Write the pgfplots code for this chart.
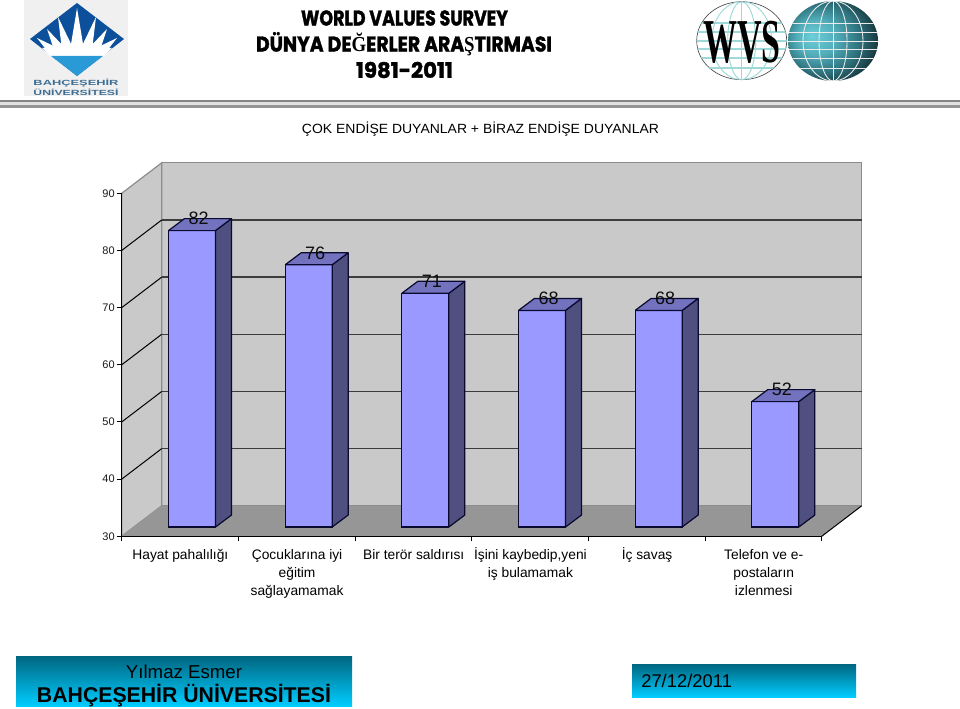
\documentclass[border=0pt]{standalone}
\usepackage{fontspec}
\setmainfont{Liberation Sans}
\newfontfamily\titlefont[BoldFeatures={FakeBold=1.6}]{Poppins}
\newfontfamily\serifpart{Liberation Serif}
\usepackage{graphicx}
\usepackage{pgfplots}
\pgfplotsset{compat=1.18}
\definecolor{barfront}{HTML}{9999FF}
\definecolor{barside}{HTML}{4F4F80}
\definecolor{bartop}{HTML}{7272BE}
\definecolor{barline}{HTML}{0A0A30}
\definecolor{wallc}{HTML}{C9C9C9}
\definecolor{floorc}{HTML}{969696}
\definecolor{edgec}{HTML}{8C8C8C}
\definecolor{gridc}{HTML}{3C3C3C}
\definecolor{logoblue}{HTML}{0C4F9A}
\definecolor{logolight}{HTML}{2A9AD6}
\definecolor{logotext}{HTML}{3F6E94}
\definecolor{bandtop}{HTML}{006680}
\definecolor{bandbot}{HTML}{00CCFF}
\definecolor{gridteal}{HTML}{9FD8D8}
\definecolor{globea}{HTML}{6BD0DA}
\definecolor{globeb}{HTML}{52AEBA}
\definecolor{globec}{HTML}{2F7580}
\definecolor{globed}{HTML}{12292E}
\pgfdeclareradialshading{globe}{\pgfpoint{-12bp}{3bp}}{%
  color(0bp)=(globea);
  color(11bp)=(globeb);
  color(21bp)=(globec);
  color(32bp)=(globed);
  color(40bp)=(black);
  color(50bp)=(black)}
% side, top and base edge of one bar: #1 position, #2 value
\newcommand\barfaces[2]{%
  \addplot[fill=barside,draw=barline,line width=.9pt,line join=round] coordinates
    {({#1+.2014},30) ({#1+.3385},32.105) ({#1+.3385},{#2+2.105}) ({#1+.2014},#2) ({#1+.2014},30)};
  \addplot[fill=bartop,draw=barline,line width=.9pt,line join=round] coordinates
    {({#1-.2014},#2) ({#1-.0643},{#2+2.105}) ({#1+.3385},{#2+2.105}) ({#1+.2014},#2) ({#1-.2014},#2)};
  \addplot[draw=barline,line width=.9pt] coordinates {({#1-.2014},30) ({#1+.2014},30)};
}
\newcommand\wallgrid[1]{%
  \addplot[draw=black,line width=.75pt] coordinates {(-.5,#1) (-.1571,{#1+5.335})};
  \addplot[draw=gridc,line width=1.1pt] coordinates {(-.1571,{#1+5.335}) (5.8429,{#1+5.335})};
}
\begin{document}
\begin{tikzpicture}
\begin{scope}[x=.75pt,y=-.75pt]
\path[use as bounding box] (0,0) rectangle (960,709);
% university logo
\fill[black!6] (24,0) rectangle (128,96);
\fill[logoblue] (30,39) -- (77,3) -- (124,39) -- (77,76) -- cycle;
\fill[white] (70,50) -- (77,8) -- (84,50) -- cycle;
\fill[white] (62,50) -- (58,17) -- (74,50) -- cycle;
\fill[white] (92,50) -- (96,17) -- (80,50) -- cycle;
\fill[white] (54,50) -- (47,29) -- (67,50) -- cycle;
\fill[white] (100,50) -- (107,29) -- (87,50) -- cycle;
\fill[white] (48,52) -- (37,38) -- (60,49) -- cycle;
\fill[white] (106,52) -- (117,38) -- (94,49) -- cycle;
\fill[white] (42,48) -- (112,48) -- (103,57) -- (51,57) -- cycle;
\fill[logolight] (51,56) -- (103,56) -- (77,76) -- cycle;
\node[text=logotext,font=\bfseries\fontsize{5.6}{6}\selectfont,inner sep=0] at (76,83.5)
  {\resizebox{63.75pt}{\height}{BAHÇEŞEHİR}};
\node[text=logotext,font=\bfseries\fontsize{5.6}{6}\selectfont,inner sep=0] at (76,92)
  {\resizebox{63.75pt}{\height}{ÜNİVERSİTESİ}};
% heading
\node[inner sep=0,font=\titlefont\bfseries\fontsize{16}{16}\selectfont] at (404.5,18)
  {\resizebox{155.25pt}{\height}{WORLD VALUES SURVEY}};
\node[inner sep=0,font=\titlefont\bfseries\fontsize{16}{16}\selectfont] at (404,44)
  {\resizebox{222pt}{\height}{DÜNYA DE{\serifpart Ğ}ERLER ARA{\serifpart Ş}TIRMASI}};
\node[inner sep=0,font=\titlefont\bfseries\fontsize{16}{16}\selectfont] at (404.5,70)
  {\resizebox{72.75pt}{\height}{1981-2011}};
% WVS logo
\draw[black!70,line width=.5pt,fill=white] (741.7,40.7) ellipse [x radius=45,y radius=39];
\begin{scope}
\clip (741.7,40.7) ellipse [x radius=45,y radius=39];
\foreach \y in {23,32,41,49,58,68}{\draw[gridteal,line width=.8pt] (695,\y) -- (788,\y);}
\foreach \r in {14,30}{\draw[gridteal,line width=.7pt] (741.7,40.7) ellipse [x radius=\r,y radius=39];}
\draw[gridteal,line width=.7pt] (741.7,0) -- (741.7,80);
\end{scope}
\node[inner sep=0,font=\serifpart\bfseries\fontsize{20}{20}\selectfont] at (742,42)
  {\resizebox{58pt}{31pt}{WVS}};
\shade[shading=globe] (833,41) ellipse [x radius=45,y radius=40];
\begin{scope}
\clip (833,41) ellipse [x radius=45,y radius=40];
\foreach \y in {23,32,41,49,58,68}{\draw[white!92!black,line width=.7pt] (785,\y) -- (880,\y);}
\foreach \r in {14,30}{\draw[white!92!black,line width=.65pt] (833,41) ellipse [x radius=\r,y radius=40];}
\draw[white!92!black,line width=.65pt] (833,0) -- (833,82);
\end{scope}
% rule
\fill[black!12] (0,100) rectangle (960,108);
\fill[black!48] (0,100) rectangle (960,102.5);
\fill[black!42] (0,105.5) rectangle (960,108);
% subtitle
\node[inner sep=0,font=\fontsize{10}{10}\selectfont] at (480.5,129)
  {\resizebox{267.75pt}{\height}{ÇOK ENDİŞE DUYANLAR + BİRAZ ENDİŞE DUYANLAR}};
% footer bands
\shade[top color=bandtop,bottom color=bandbot] (16,656) rectangle (352,706);
\node[inner sep=0,font=\fontsize{14}{14}\selectfont] at (184,672) {Yılmaz Esmer};
\node[inner sep=0,font=\bfseries\fontsize{16}{16}\selectfont] at (184,696)
  {\resizebox{220.5pt}{\height}{BAHÇEŞEHİR ÜNİVERSİTESİ}};
\shade[top color=bandtop,bottom color=bandbot] (632,664) rectangle (856,697);
\node[inner sep=0,anchor=west,font=\fontsize{13.8}{14}\selectfont] at (641,681) {27/12/2011};
\end{scope}
% frame, walls, ticks
\begin{axis}[
  at={(91.3pt,-402.2pt)},anchor=south west,
  scale only axis,width=525pt,height=257.25pt,
  xmin=-.5,xmax=5.5,ymin=30,ymax=90,
  clip=false,axis on top,
  axis x line=bottom,axis y line=left,
  axis line style={-,black,line width=.9pt},
  ytick={30,40,50,60,70,80,90},
  /pgf/number format/assume math mode=true,
  y tick label style={font=\fontsize{8.25}{9}\selectfont,color=black!90,xshift=2pt},
  y tick style={black,line width=.8pt},
  ytick align=outside,
  xtick={-.5,.5,1.5,2.5,3.5,4.5,5.5},
  xticklabels={},
  xtick align=outside,
  x tick style={black,line width=.8pt},
  tick pos=lower,
  major tick length=3.75pt,
  extra x ticks={0,1,2,3,4,5},
  extra x tick labels={\strut Hayat pahalılığı,{\strut Çocuklarına iyi\\eğitim\\sağlayamamak},{\strut Bir terör saldırısı},{\strut İşini kaybedip,yeni\\iş bulamamak},{\strut İç savaş},{\strut Telefon ve e-\\postaların\\izlenmesi}},
  extra x tick style={major tick length=0pt,
    tick label style={font=\fontsize{10.35}{13.5}\selectfont,align=center,anchor=north,yshift=-4.5pt,xshift=.25pt}},
]
\addplot[fill=wallc,draw=edgec,line width=.9pt] coordinates {(-.1571,35.335) (5.8429,35.335) (5.8429,95.335) (-.1571,95.335) (-.1571,35.335)};
\addplot[fill=wallc,draw=edgec,line width=.9pt] coordinates {(-.5,30) (-.1571,35.335) (-.1571,95.335) (-.5,90) (-.5,30)};
\addplot[fill=floorc,draw=none] coordinates {(-.5,30) (-.1571,35.335) (5.8429,35.335) (5.5,30) (-.5,30)};
\addplot[draw=black,line width=.75pt] coordinates {(5.5,30) (5.8429,35.335)};
\wallgrid{40}\wallgrid{50}\wallgrid{60}\wallgrid{70}\wallgrid{80}
\end{axis}
% bar fronts
\begin{axis}[
  at={(100.25pt,-395.25pt)},anchor=south west,
  scale only axis,width=525pt,height=256.5pt,
  xmin=-.5,xmax=5.5,ymin=30,ymax=90,hide axis,
]
\addplot[ybar,bar width=35.25pt,fill=barfront,draw=barline,line width=.9pt]
  coordinates {(0,82) (1,76) (2,71) (3,68) (4,68) (5,52)};
\end{axis}
% bar sides, tops, value labels
\begin{axis}[
  at={(100.25pt,-395.25pt)},anchor=south west,
  scale only axis,width=525pt,height=256.5pt,
  xmin=-.5,xmax=5.5,ymin=30,ymax=90,hide axis,clip=false,
]
\barfaces{0}{82}\barfaces{1}{76}\barfaces{2}{71}\barfaces{3}{68}\barfaces{4}{68}\barfaces{5}{52}
\addplot[draw=none,mark=none,nodes near coords,point meta=y,
  nodes near coords style={anchor=center,xshift=4.9pt,yshift=9pt,inner sep=0pt,
    font=\fontsize{13.5}{14}\selectfont,text=black!95,
    /pgf/number format/assume math mode=true}]
  coordinates {(0,82) (1,76) (2,71) (3,68) (4,68) (5,52)};
\end{axis}
\end{tikzpicture}
\end{document}
